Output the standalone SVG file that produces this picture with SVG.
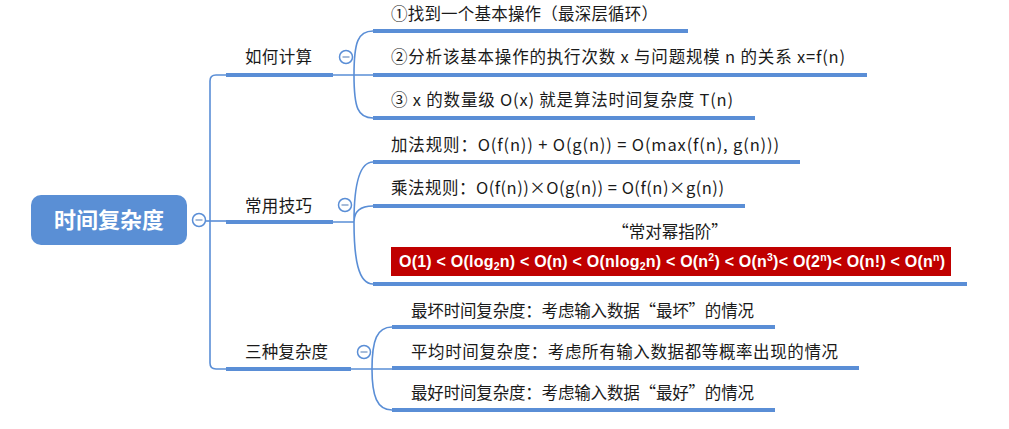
<svg xmlns="http://www.w3.org/2000/svg" width="1009" height="429" viewBox="0 0 1009 429">
<style>
.t{font-family:"Noto Sans CJK SC","Liberation Sans",sans-serif;font-size:16.5px;fill:#1a1a1a}
.ul{stroke:#5a8ed6;stroke-width:4;fill:none}
.ln{stroke:#5a8ed6;stroke-width:1.6;fill:none}
.cc{fill:#fff;stroke:#5a8ed6;stroke-width:1.5}
.mn{stroke:#8aa6cc;stroke-width:1.5}
</style>
<rect width="1009" height="429" fill="#fff"/>
<g id="connectors">
<path class="ln" d="M226,75 H216 Q210,75 210,81 V363 Q210,369 216,369 H226"/>
<path class="ln" d="M205.5,221 H226"/>
<path class="ln" d="M333,75 H373 M354,75 C354,42 358,31 373,31 M354,75 C354,108 358,118 373,118"/>
<path class="ln" d="M333,222 H354 C354,190 358,162 373,162 M354,222 C354,212 360,206 373,206 M354,222 C354,258 358,284 373,284"/>
<path class="ln" d="M351,369 H392 M372,369 C372,340 377,327 392,327 M372,369 C372,396 377,410 392,410"/>
</g>
<g id="root">
<rect x="31" y="195" width="156" height="50" rx="10" fill="#5a8fd5"/>
<text x="109" y="228" text-anchor="middle" font-family="Noto Sans CJK SC,sans-serif" font-size="22" font-weight="bold" fill="#fff">时间复杂度</text>
<circle class="cc" cx="199" cy="220" r="6.5"/><line class="mn" x1="195.5" y1="220" x2="202.5" y2="220"/>
</g>
<g id="n-howto">
<text class="t" x="245" y="63" textLength="67">如何计算</text>
<line class="ul" x1="226" y1="75" x2="333" y2="75"/>
<circle class="cc" cx="346" cy="57" r="6.5"/><line class="mn" x1="342.5" y1="57" x2="349.5" y2="57"/>
</g>
<g id="n-step1">
<text class="t" x="391" y="20" textLength="267">①找到一个基本操作（最深层循环）</text>
<line class="ul" x1="373" y1="31" x2="688" y2="31"/>
</g>
<g id="n-step2">
<text class="t" x="391" y="63" textLength="454">②分析该基本操作的执行次数 x 与问题规模 n 的关系 x=f(n)</text>
<line class="ul" x1="373" y1="75" x2="867" y2="75"/>
</g>
<g id="n-step3">
<text class="t" x="391" y="106" textLength="342">③ x 的数量级 O(x) 就是算法时间复杂度 T(n)</text>
<line class="ul" x1="373" y1="118" x2="755" y2="118"/>
</g>
<g id="n-tips">
<text class="t" x="245" y="212" textLength="67">常用技巧</text>
<line class="ul" x1="226" y1="222" x2="333" y2="222"/>
<circle class="cc" cx="345" cy="205" r="6.5"/><line class="mn" x1="341.5" y1="205" x2="348.5" y2="205"/>
</g>
<g id="n-add">
<text class="t" x="391" y="151" textLength="388">加法规则：O(f(n)) + O(g(n)) = O(max(f(n), g(n)))</text>
<line class="ul" x1="373" y1="162" x2="800" y2="162"/>
</g>
<g id="n-mul">
<text class="t" x="391" y="194" textLength="333">乘法规则：O(f(n))×O(g(n)) = O(f(n)×g(n))</text>
<line class="ul" x1="373" y1="206" x2="745" y2="206"/>
</g>
<g id="n-order">
<text class="t" x="670" y="238" text-anchor="middle">“常对幂指阶”</text>
<rect x="391" y="247" width="560" height="29" fill="#c00000"/>
<text x="399" y="267" textLength="546" font-family="Liberation Sans,sans-serif" font-size="16" font-weight="bold" fill="#fff">O(1) &lt; O(log<tspan font-size="10.5" dy="3">2</tspan><tspan dy="-3">n) &lt; O(n) &lt; O(nlog</tspan><tspan font-size="10.5" dy="3">2</tspan><tspan dy="-3">n) &lt; O(n</tspan><tspan font-size="10.5" dy="-6">2</tspan><tspan dy="6">) &lt; O(n</tspan><tspan font-size="10.5" dy="-6">3</tspan><tspan dy="6">)&lt; O(2</tspan><tspan font-size="10.5" dy="-6">n</tspan><tspan dy="6">)&lt; O(n!) &lt; O(n</tspan><tspan font-size="10.5" dy="-6">n</tspan><tspan dy="6">)</tspan></text>
<line class="ul" x1="373" y1="284" x2="967" y2="284"/>
</g>
<g id="n-three">
<text class="t" x="245" y="358" textLength="83">三种复杂度</text>
<line class="ul" x1="226" y1="369" x2="351" y2="369"/>
<circle class="cc" cx="364" cy="352" r="6.5"/><line class="mn" x1="360.5" y1="352" x2="367.5" y2="352"/>
</g>
<g id="n-worst">
<text class="t" x="411" y="317" textLength="343">最坏时间复杂度：考虑输入数据“最坏”的情况</text>
<line class="ul" x1="392" y1="327" x2="775" y2="327"/>
</g>
<g id="n-avg">
<text class="t" x="411" y="358" textLength="427">平均时间复杂度：考虑所有输入数据都等概率出现的情况</text>
<line class="ul" x1="392" y1="368" x2="859" y2="368"/>
</g>
<g id="n-best">
<text class="t" x="411" y="399" textLength="343">最好时间复杂度：考虑输入数据“最好”的情况</text>
<line class="ul" x1="392" y1="410" x2="775" y2="410"/>
</g>
</svg>
